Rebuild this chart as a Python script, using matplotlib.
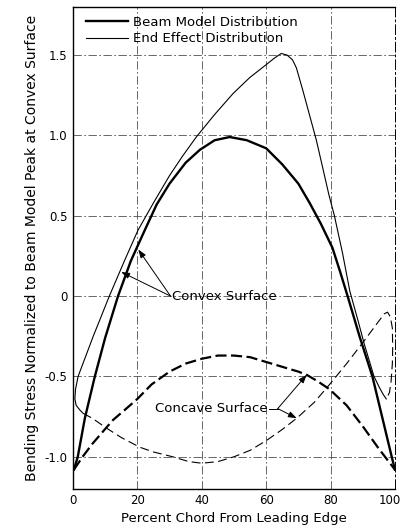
import numpy as np
import matplotlib; matplotlib.use("Agg")
import matplotlib.pyplot as plt
import matplotlib.transforms as mtransforms
from matplotlib import font_manager

# pick a narrow face if the box has one, DejaVu otherwise
names = {f.name for f in font_manager.fontManager.ttflist}
NARROW = "Liberation Sans Narrow" in names
FAM = "Liberation Sans Narrow" if NARROW else "DejaVu Sans"
FS = 10 if NARROW else 8.5
plt.rcParams["font.family"] = FAM

# beam model, convex surface (thick solid)
beam_cvx_x = [0.3, 1.5, 3.7, 6.8, 10, 14, 18, 22.3, 26, 30, 35, 39.4, 44, 48.7, 54, 60, 65, 70,
              73.5, 77, 80.6, 83, 85.3, 89, 93, 96, 99, 100]
beam_cvx_y = [-1.08, -1.0, -0.76, -0.5, -0.26, 0.0, 0.22, 0.41, 0.57, 0.70, 0.83, 0.91, 0.97, 0.99,
              0.97, 0.92, 0.82, 0.70, 0.58, 0.45, 0.30, 0.15, 0.0, -0.25, -0.5, -0.75, -1.0, -1.08]
# beam model, concave surface (thick dashed)
beam_ccv_x = [0.3, 3, 6, 10.3, 12.5, 16, 20, 24.4, 30, 35, 40, 45, 50, 55, 60, 65, 70, 72.6, 76,
              79.7, 85, 90, 95, 100]
beam_ccv_y = [-1.08, -1.0, -0.92, -0.82, -0.77, -0.71, -0.64, -0.55, -0.47, -0.42, -0.39, -0.37,
              -0.37, -0.38, -0.41, -0.44, -0.47, -0.49, -0.53, -0.58, -0.68, -0.81, -0.95, -1.08]
# end effect, convex surface (thin solid)
end_cvx_x = [3.2, 2.2, 1.0, 0.6, 0.8, 1.6, 6.3, 11.3, 16, 20.2, 25, 30, 34, 38.3, 44, 49.7, 54.9,
             60, 62.5, 64.7, 66.5, 68.2, 69.4, 71.4, 75.6, 79.5, 81.2, 83.7, 86, 88.5, 90.5,
             93.5, 95.2, 96.3, 97.3]
end_cvx_y = [-0.73, -0.71, -0.68, -0.64, -0.58, -0.5, -0.25, 0.0, 0.22, 0.41, 0.58, 0.75, 0.87,
             0.99, 1.13, 1.26, 1.36, 1.44, 1.48, 1.51, 1.50, 1.47, 1.42, 1.28, 0.97, 0.63, 0.50,
             0.27, 0.03, -0.15, -0.30, -0.50, -0.57, -0.61, -0.64]
# end effect, concave surface (thin dashed)
end_ccv_x = [3.2, 6, 10.3, 15, 20.7, 25, 31, 36, 40, 45, 50, 55, 60, 65, 69.5, 75, 79.7, 85, 90,
             95.2, 96.7, 97.7, 98.6, 99.2, 99.3, 99.2, 98.8, 98.3, 97.3]
end_ccv_y = [-0.73, -0.76, -0.82, -0.88, -0.94, -0.97, -1.0, -1.03, -1.04, -1.03, -1.0, -0.96,
             -0.90, -0.83, -0.76, -0.66, -0.55, -0.42, -0.29, -0.15, -0.11, -0.10, -0.13, -0.2,
             -0.32, -0.42, -0.53, -0.60, -0.64]

xticks = [0, 20, 40, 60, 80, 100]
yticks = [-1.0, -0.5, 0, 0.5, 1.0, 1.5]
ylabels = ["-1.0", "-0.5", "0", "0.5", "1.0", "1.5"]

TXT = FS * 1.12

fig = plt.figure(figsize=(4.03, 5.28), dpi=100)
ax = fig.add_axes([0.181, 0.074, 0.799, 0.913])

ax.plot(beam_cvx_x, beam_cvx_y, color="k", lw=1.7, label="Beam Model Distribution")
ax.plot(end_cvx_x, end_cvx_y, color="k", lw=0.8, label="End Effect Distribution")
ax.plot(beam_ccv_x, beam_ccv_y, color="k", lw=1.6, ls=(0, (5, 2)))
ax.plot(end_ccv_x, end_ccv_y, color="k", lw=0.8, ls=(0, (8, 4)))

ax.set_xlim(0, 100); ax.set_ylim(-1.2, 1.8)
ax.set_xticks(xticks); ax.set_yticks(yticks); ax.set_yticklabels(ylabels)
ax.tick_params(length=0, labelsize=FS, pad=4)
ax.grid(True, color="0.3", lw=0.6, ls=(0, (10, 3, 2, 3)))
for s in ("left", "bottom", "top"):
    ax.spines[s].set_linewidth(1.0)
ax.spines["right"].set_linestyle((0, (10, 3, 2, 3))); ax.spines["right"].set_linewidth(0.7)

# keep "100" inside the canvas
last = ax.get_xticklabels()[-1]
last.set_transform(last.get_transform() + mtransforms.ScaledTranslation(-4 / 72, 0, fig.dpi_scale_trans))

ax.set_xlabel("Percent Chord From Leading Edge", fontsize=TXT, labelpad=3)
ax.set_ylabel("Bending Stress Normalized to Beam Model Peak at Convex Surface", fontsize=FS * 1.18, labelpad=4)

em = TXT * 100 / 72
ax.legend(loc="upper left", bbox_to_anchor=(0.0125, 1.0), frameon=False, fontsize=TXT,
          handlelength=42 / em, handletextpad=5 / em, labelspacing=0.25, borderaxespad=0.3)

arw = dict(arrowstyle="-|>,head_length=0.5,head_width=0.18", color="k", lw=0.7, shrinkA=0, shrinkB=0)
ax.text(30.8, 0.0, "Convex Surface", fontsize=TXT, ha="left", va="center")
ax.annotate("", xy=(20.3, 0.29), xytext=(30.3, 0.0), arrowprops=arw)
ax.annotate("", xy=(15.0, 0.15), xytext=(30.3, 0.0), arrowprops=arw)

ax.text(60.5, -0.70, "Concave Surface", fontsize=TXT, ha="right", va="center")
ax.plot([60.8, 63.6], [-0.70, -0.70], color="k", lw=0.7)
ax.annotate("", xy=(72.6, -0.49), xytext=(63.6, -0.70), arrowprops=arw)
ax.annotate("", xy=(69.5, -0.76), xytext=(63.6, -0.70), arrowprops=arw)

fig.savefig("out.png", dpi=100)
